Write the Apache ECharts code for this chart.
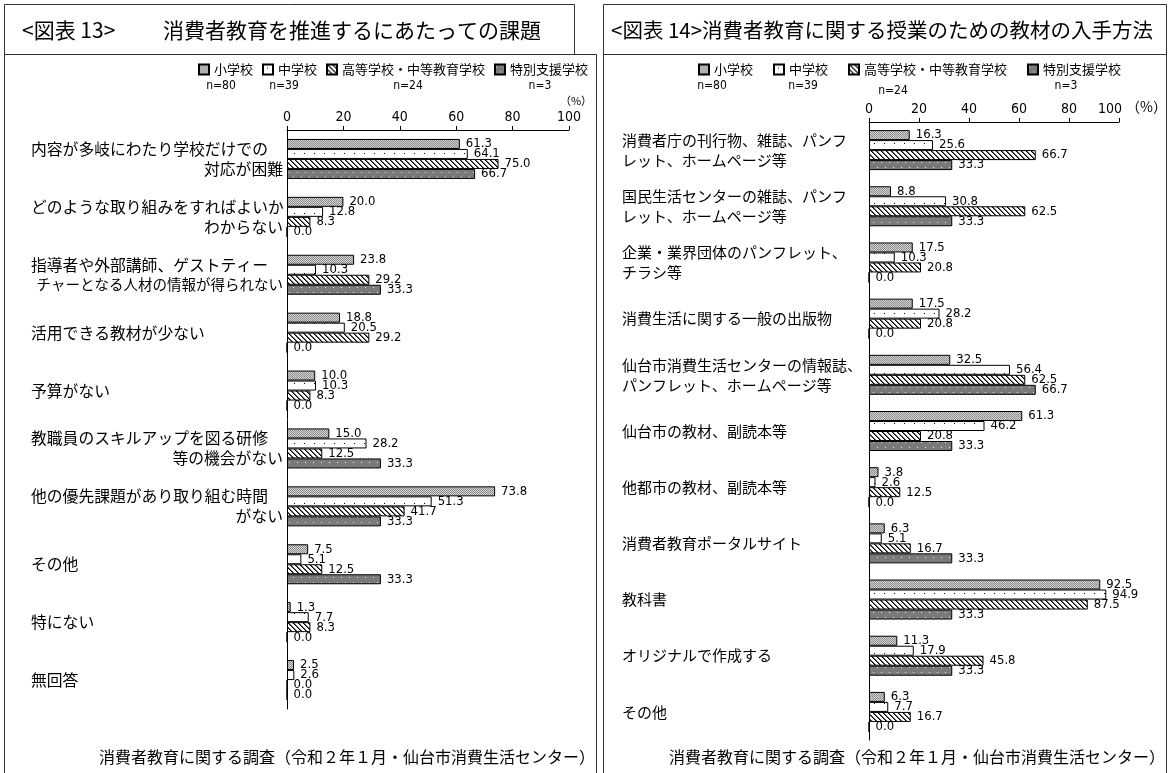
<!DOCTYPE html>
<html><head><meta charset="utf-8">
<script src="https://cdn.jsdelivr.net/npm/echarts@6/dist/echarts.min.js"></script>
<style>html,body{margin:0;padding:0;background:#fff}#c{width:1170px;height:773px}</style>
</head><body><div id="c"></div><script>
// ---- data: left chart (図表13) ----
const catsL = [
  '内容が多岐にわたり学校だけでの\n対応が困難',
  'どのような取り組みをすればよいか\nわからない',
  '指導者や外部講師、ゲストティー\nチャーとなる人材の情報が得られない',
  '活用できる教材が少ない',
  '予算がない',
  '教職員のスキルアップを図る研修\n等の機会がない',
  '他の優先課題があり取り組む時間\nがない',
  'その他',
  '特にない',
  '無回答'
];
const elemL   = [61.3, 20.0, 23.8, 18.8, 10.0, 15.0, 73.8, 7.5, 1.3, 2.5];
const juniorL = [64.1, 12.8, 10.3, 20.5, 10.3, 28.2, 51.3, 5.1, 7.7, 2.6];
const highL   = [75.0, 8.3, 29.2, 29.2, 8.3, 12.5, 41.7, 12.5, 8.3, 0.0];
const specL   = [66.7, 0.0, 33.3, 0.0, 0.0, 33.3, 33.3, 33.3, 0.0, 0.0];

// ---- data: right chart (図表14) ----
const catsR = [
  '消費者庁の刊行物、雑誌、パンフ\nレット、ホームページ等',
  '国民生活センターの雑誌、パンフ\nレット、ホームページ等',
  '企業・業界団体のパンフレット、\nチラシ等',
  '消費生活に関する一般の出版物',
  '仙台市消費生活センターの情報誌、\nパンフレット、ホームページ等',
  '仙台市の教材、副読本等',
  '他都市の教材、副読本等',
  '消費者教育ポータルサイト',
  '教科書',
  'オリジナルで作成する',
  'その他'
];
const elemR   = [16.3, 8.8, 17.5, 17.5, 32.5, 61.3, 3.8, 6.3, 92.5, 11.3, 6.3];
const juniorR = [25.6, 30.8, 10.3, 28.2, 56.4, 46.2, 2.6, 5.1, 94.9, 17.9, 7.7];
const highR   = [66.7, 62.5, 20.8, 20.8, 62.5, 20.8, 12.5, 16.7, 87.5, 45.8, 16.7];
const specR   = [33.3, 33.3, 0.0, 0.0, 66.7, 33.3, 0.0, 33.3, 33.3, 33.3, 0.0];

const seriesNames = ['小学校', '中学校', '高等学校・中等教育学校', '特別支援学校'];
const nLabels = ['n=80', 'n=39', 'n=24', 'n=3'];
const titleL = ['<図表 13>', '消費者教育を推進するにあたっての課題'];
const titleR = '<図表 14>消費者教育に関する授業のための教材の入手方法';
const footer = '消費者教育に関する調査（令和２年１月・仙台市消費生活センター）';

// ---- patterns ----
function pat(w, h, draw) {
  const c = document.createElement('canvas'); c.width = w; c.height = h;
  const x = c.getContext('2d'); draw(x); return c;
}
const pElem = pat(2, 2, x => { x.fillStyle = '#d6d6d6'; x.fillRect(0,0,2,2); x.fillStyle = '#8a8a8a'; x.fillRect(0,0,1,1); x.fillRect(1,1,1,1); });
const pJun = pat(10, 10, x => { x.fillStyle = '#fff'; x.fillRect(0,0,10,10); x.fillStyle = '#000'; x.fillRect(4,3,1,1); });
const pHigh = pat(5, 5, x => { x.fillStyle = '#fff'; x.fillRect(0,0,5,5);
  for (let i = 0; i < 5; i++) { x.fillStyle = '#000'; x.fillRect(i, i, 1, 1); x.fillStyle = '#666'; x.fillRect((i+1)%5, i, 1, 1); } });
const pSpec = pat(8, 10, x => { x.fillStyle = '#7a7a7a'; x.fillRect(0,0,8,10); x.fillStyle = '#e8e8e8'; x.fillRect(1,2,1,1); x.fillRect(5,7,1,1); });
const patterns = [pElem, pJun, pHigh, pSpec];

const JP = "'Noto Sans CJK JP', sans-serif";
const NUM = "'Liberation Sans Narrow', 'DejaVu Sans Condensed', 'Liberation Sans', sans-serif";

function mkSeries(gi, datas) {
  return datas.map((d, i) => ({
    name: seriesNames[i], type: 'bar', xAxisIndex: gi, yAxisIndex: gi,
    data: d, barWidth: 10, barGap: '0%',
    itemStyle: { color: { image: patterns[i], repeat: 'repeat' }, borderColor: '#000', borderWidth: 1 },
    label: { show: true, position: 'right', distance: 6, color: '#000', fontSize: 13, fontFamily: NUM,
      formatter: p => Number(p.value).toFixed(1) },
    emphasis: { disabled: true }, animation: false
  }));
}

function xAxisCfg(gi, shift100) {
  return { type: 'value', gridIndex: gi, position: 'top', min: 0, max: 100, interval: 20,
    axisLine: { show: true, lineStyle: { color: '#000', width: 1 } },
    axisTick: { show: true, length: 4, lineStyle: { color: '#000' } },
    splitLine: { show: false },
    axisLabel: { color: '#000', fontSize: 14, fontFamily: NUM, margin: 6,
      formatter: v => (shift100 && v === 100) ? '{s|' + v + '}' : String(v),
      rich: { s: { fontSize: 14, fontFamily: NUM, color: '#000', padding: [0, 18, 0, 0] } } } };
}

const chart = echarts.init(document.getElementById('c'));
const lineSty = { stroke: '#333', lineWidth: 1 };
function txt(x, y, t, font, align) {
  return { type: 'text', x: x, y: y, style: { text: t, font: font, fill: '#000', align: align || 'left', verticalAlign: 'middle' } };
}

chart.setOption({
  animation: false,
  backgroundColor: '#fff',
  legend: [
    { data: seriesNames, left: 198, top: 63, itemWidth: 10, itemHeight: 10, itemGap: 9, padding: 0,
      icon: 'rect', textStyle: { fontSize: 13, fontFamily: JP, color: '#000' }, selectedMode: false },
    { data: seriesNames, left: 698, top: 63, itemWidth: 10, itemHeight: 10, itemGap: 20, padding: 0,
      icon: 'rect', textStyle: { fontSize: 13, fontFamily: JP, color: '#000' }, selectedMode: false }
  ],
  grid: [
    { left: 287, top: 130, width: 282, height: 579 },
    { left: 869, top: 122, width: 250, height: 618 }
  ],
  xAxis: [xAxisCfg(0, false), xAxisCfg(1, true)],
  yAxis: [
    { type: 'category', gridIndex: 0, data: catsL, inverse: true,
      axisLine: { show: true, lineStyle: { color: '#000' } }, axisTick: { show: false },
      axisLabel: { align: 'left', margin: 256, color: '#000', fontFamily: JP,
        formatter: v => v.split('\n').map((l, i) => i === 0 ? '{a|' + l + '}' : (l.length > 12 ? '{c|' + l + '}' : '{b|' + l + '}')).join('\n'),
        rich: {
          a: { fontSize: 15.8, fontFamily: JP, width: 252, align: 'left', lineHeight: 20, color: '#000' },
          b: { fontSize: 15.8, fontFamily: JP, width: 252, align: 'right', lineHeight: 20, color: '#000' },
          c: { fontSize: 14.5, fontFamily: JP, width: 252, align: 'right', lineHeight: 20, color: '#000' }
        } } },
    { type: 'category', gridIndex: 1, data: catsR, inverse: true,
      axisLine: { show: true, lineStyle: { color: '#000' } }, axisTick: { show: false },
      axisLabel: { align: 'left', margin: 247, color: '#000', fontFamily: JP, fontSize: 15, lineHeight: 20 } }
  ],
  series: [...mkSeries(0, [elemL, juniorL, highL, specL]), ...mkSeries(1, [elemR, juniorR, highR, specR])],
  graphic: [
    // frames
    { type: 'rect', shape: { x: 4.5, y: 4.5, width: 570, height: 50 }, style: { fill: 'none', ...lineSty } },
    { type: 'rect', shape: { x: 4.5, y: 54.5, width: 592, height: 740 }, style: { fill: 'none', ...lineSty } },
    { type: 'rect', shape: { x: 603.5, y: 4.5, width: 563, height: 50 }, style: { fill: 'none', ...lineSty } },
    { type: 'rect', shape: { x: 603.5, y: 54.5, width: 563, height: 740 }, style: { fill: 'none', ...lineSty } },
    // titles
    txt(22, 30, titleL[0], '21px ' + JP),
    txt(163, 30, titleL[1], '21px ' + JP),
    txt(611, 30, titleR, '20.5px ' + JP),
    // n labels
    txt(221, 86, nLabels[0], '12px ' + NUM, 'center'),
    txt(284, 86, nLabels[1], '12px ' + NUM, 'center'),
    txt(408, 86, nLabels[2], '12px ' + NUM, 'center'),
    txt(540, 86, nLabels[3], '12px ' + NUM, 'center'),
    txt(712, 86, nLabels[0], '12px ' + NUM, 'center'),
    txt(803, 86, nLabels[1], '12px ' + NUM, 'center'),
    txt(893, 91, nLabels[2], '12px ' + NUM, 'center'),
    txt(1066, 86, nLabels[3], '12px ' + NUM, 'center'),
    // (%)
    txt(576, 101, '（%）', '11px ' + JP, 'center'),
    txt(1126, 107, '（%）', '14px ' + JP, 'left'),
    // footers
    txt(595, 757, footer, '16px ' + JP, 'right'),
    txt(1165, 757, footer, '16px ' + JP, 'right')
  ]
});
</script></body></html>
